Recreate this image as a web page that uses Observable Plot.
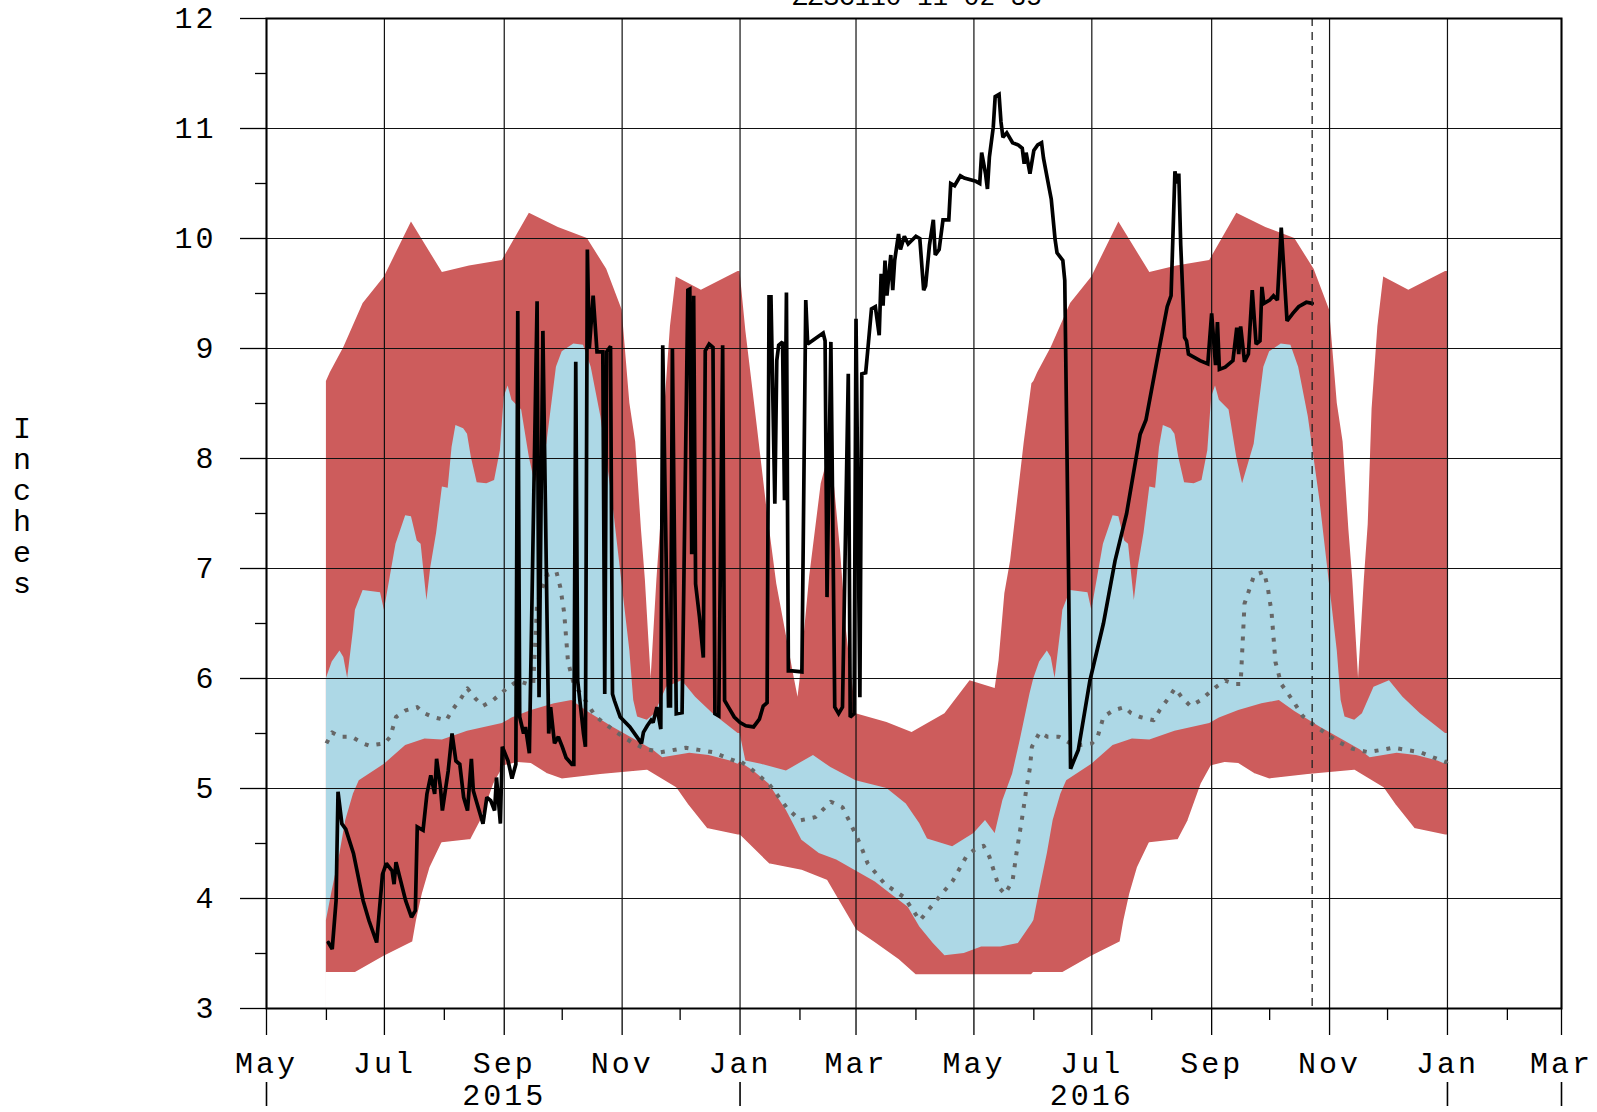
<!DOCTYPE html>
<html><head><meta charset="utf-8">
<script src="https://cdn.jsdelivr.net/npm/d3@7"></script>
<script src="https://cdn.jsdelivr.net/npm/@observablehq/plot@0.6"></script>
<style>
html,body{margin:0;padding:0;background:#fff;overflow:hidden;}
#chart{position:absolute;left:0;top:0;}
</style></head><body><div id="chart"></div>
<script>
// ---------- text & ticks ----------
const titleText = "ZZSC110 11-02-35";
const yLabelText = "Inches";
const xDomain = ["2015-05-01", "2017-03-01"];
const yDomain = [3, 12];
const majorMonthTicks = ["2015-05-01","2015-07-01","2015-09-01","2015-11-01","2016-01-01","2016-03-01","2016-05-01","2016-07-01","2016-09-01","2016-11-01","2017-01-01","2017-03-01"];
const minorMonthTicks = ["2015-06-01","2015-08-01","2015-10-01","2015-12-01","2016-02-01","2016-04-01","2016-06-01","2016-08-01","2016-10-01","2016-12-01","2017-02-01"];
const yearLabelDates = ["2015-09-01","2016-07-01"];
const yearBoundaryDates = ["2015-05-01","2016-01-01","2017-01-01","2017-03-01"];
const yMajorTicks = [3,4,5,6,7,8,9,10,11,12];
const yMinorTicks = [3.5,4.5,5.5,6.5,7.5,8.5,9.5,10.5,11.5];
const reportDate = "2016-10-23";

// ---------- climatology (month-day, one annual cycle Jun -> May) ----------
const maxDays = ["06-01","06-03","06-10","06-20","07-01","07-15","07-31","08-14","08-31","09-14","09-29","10-14","10-24","11-01","11-05","11-08","11-11","11-13","11-16","11-19","11-21","11-23","11-26","11-29","12-12","12-31","01-01","01-04","01-10","01-15","01-20","01-29","01-31","02-01","02-06","02-12","02-17","02-22","02-25","03-01","03-17","03-30","04-16","04-29","05-12","05-14","05-17","05-20","05-27","05-31"];
const maxValues = [8.70,8.78,9.01,9.41,9.65,10.15,9.69,9.75,9.80,10.23,10.10,10.00,9.72,9.35,8.50,8.15,7.35,6.90,6.00,6.90,7.40,8.45,9.20,9.65,9.53,9.70,9.70,9.16,8.28,7.53,6.86,6.01,5.83,5.98,6.92,7.77,8.10,7.16,6.44,5.68,5.60,5.51,5.68,5.98,5.91,6.16,6.77,7.07,8.14,8.68];

const minDays = ["06-01","06-16","07-01","07-16","07-18","07-21","07-25","07-31","08-15","08-20","08-27","09-01","09-08","09-15","09-23","10-01","10-21","11-14","11-29","12-05","12-15","12-31","01-01","01-16","02-02","02-15","02-20","03-01","03-11","03-23","04-01","05-31"];
const minValues = [3.32,3.32,3.47,3.60,3.80,4.04,4.28,4.50,4.53,4.70,5.04,5.20,5.23,5.22,5.13,5.08,5.12,5.16,5.00,4.85,4.63,4.57,4.57,4.31,4.25,4.16,4.01,3.71,3.59,3.44,3.30,3.30];

const upperDays = ["06-01","06-04","06-08","06-10","06-12","06-15","06-16","06-20","06-29","07-01","07-04","07-07","07-12","07-15","07-18","07-20","07-23","07-25","07-28","07-31","08-03","08-05","08-07","08-11","08-13","08-15","08-18","08-23","08-27","08-30","09-01","09-03","09-05","09-10","09-14","09-17","09-23","09-28","10-01","10-07","10-12","10-16","10-21","10-27","10-31","11-05","11-07","11-09","11-14","11-18","11-24","12-02","12-09","12-18","12-31","01-01","01-04","01-12","01-25","02-08","02-17","03-01","03-17","03-27","04-03","04-07","04-20","05-01","05-07","05-12","05-16","05-21","05-25","05-30"];
const upperValues = [6.00,6.15,6.25,6.19,6.00,6.44,6.62,6.80,6.78,6.62,6.92,7.22,7.48,7.47,7.25,7.22,6.71,7.01,7.32,7.74,7.73,8.10,8.30,8.27,8.22,8.01,7.78,7.77,7.80,8.07,8.56,8.66,8.53,8.44,8.01,7.77,8.13,8.83,8.97,9.04,9.03,8.83,8.38,7.62,7.01,6.25,5.80,5.65,5.62,5.68,5.92,5.98,5.83,5.68,5.50,5.50,5.25,5.22,5.16,5.30,5.19,5.07,5.00,4.86,4.68,4.54,4.47,4.59,4.71,4.59,4.89,5.13,5.44,5.86];

const lowerDays = ["06-01","06-04","06-08","06-11","06-15","06-18","07-01","07-12","07-22","07-31","08-13","08-31","09-05","09-15","09-27","10-06","10-14","10-27","11-07","11-17","11-22","12-06","12-16","12-27","12-31","01-01","01-08","01-16","01-25","02-02","02-11","02-20","03-01","03-11","03-19","03-28","04-03","04-10","04-16","04-26","05-05","05-15","05-24","05-31"];
const lowerValues = [3.80,4.07,4.41,4.71,4.95,5.07,5.22,5.39,5.45,5.44,5.52,5.59,5.64,5.71,5.77,5.80,5.70,5.56,5.45,5.35,5.28,5.32,5.30,5.25,5.22,5.24,5.16,5.04,4.80,4.53,4.41,4.35,4.25,4.15,4.04,3.92,3.74,3.59,3.48,3.50,3.56,3.56,3.59,3.77];

const medianDays = ["06-01","06-04","06-08","06-14","06-20","06-23","07-01","07-04","07-07","07-12","07-18","07-21","07-26","08-02","08-05","08-10","08-13","08-17","08-21","08-26","09-03","09-08","09-13","09-16","09-18","09-23","09-28","09-30","10-02","10-04","10-07","10-13","10-18","10-23","10-30","11-06","11-13","11-21","12-04","12-18","12-25","12-31","01-01","01-08","01-16","01-25","02-01","02-09","02-17","02-23","02-28","03-03","03-07","03-16","03-26","04-03","04-10","04-20","04-27","05-01","05-06","05-09","05-14","05-17","05-21","05-23","05-26","05-28","05-30","05-31"];
const medianValues = [5.41,5.51,5.47,5.47,5.41,5.39,5.41,5.47,5.65,5.71,5.74,5.69,5.65,5.62,5.71,5.83,5.91,5.82,5.75,5.80,5.92,5.98,5.95,5.95,6.68,6.94,6.97,6.83,6.60,6.15,5.95,5.80,5.66,5.59,5.50,5.42,5.36,5.33,5.37,5.33,5.28,5.24,5.25,5.16,5.04,4.83,4.71,4.74,4.88,4.83,4.65,4.50,4.32,4.13,4.01,3.80,3.95,4.16,4.38,4.44,4.48,4.38,4.10,4.04,4.16,4.41,4.74,4.98,5.19,5.38];

// ---------- current water year observations ----------
const obsDates = ["2015-06-02","2015-06-04","2015-06-06","2015-06-07","2015-06-09","2015-06-11","2015-06-15","2015-06-20","2015-06-23","2015-06-27","2015-06-30","2015-07-02","2015-07-05","2015-07-06","2015-07-07","2015-07-09","2015-07-12","2015-07-15","2015-07-17","2015-07-18","2015-07-21","2015-07-23","2015-07-25","2015-07-27","2015-07-28","2015-07-30","2015-07-31","2015-08-03","2015-08-05","2015-08-07","2015-08-09","2015-08-11","2015-08-13","2015-08-15","2015-08-16","2015-08-18","2015-08-21","2015-08-23","2015-08-25","2015-08-27","2015-08-28","2015-08-30","2015-08-31","2015-09-03","2015-09-05","2015-09-07","2015-09-08","2015-09-09","2015-09-11","2015-09-12","2015-09-14","2015-09-18","2015-09-19","2015-09-21","2015-09-24","2015-09-25","2015-09-27","2015-09-29","2015-10-01","2015-10-03","2015-10-06","2015-10-07","2015-10-08","2015-10-09","2015-10-12","2015-10-13","2015-10-14","2015-10-15","2015-10-17","2015-10-19","2015-10-22","2015-10-23","2015-10-24","2015-10-26","2015-10-27","2015-10-28","2015-10-31","2015-11-05","2015-11-11","2015-11-12","2015-11-14","2015-11-16","2015-11-17","2015-11-19","2015-11-21","2015-11-22","2015-11-25","2015-11-26","2015-11-27","2015-11-29","2015-12-02","2015-12-05","2015-12-06","2015-12-07","2015-12-08","2015-12-09","2015-12-11","2015-12-13","2015-12-14","2015-12-16","2015-12-18","2015-12-19","2015-12-21","2015-12-23","2015-12-24","2015-12-26","2015-12-29","2016-01-01","2016-01-04","2016-01-08","2016-01-11","2016-01-13","2016-01-15","2016-01-16","2016-01-17","2016-01-19","2016-01-20","2016-01-21","2016-01-23","2016-01-24","2016-01-25","2016-01-26","2016-01-28","2016-02-02","2016-02-04","2016-02-05","2016-02-09","2016-02-13","2016-02-14","2016-02-15","2016-02-17","2016-02-19","2016-02-21","2016-02-23","2016-02-26","2016-02-27","2016-02-29","2016-03-01","2016-03-03","2016-03-04","2016-03-06","2016-03-07","2016-03-09","2016-03-11","2016-03-13","2016-03-14","2016-03-15","2016-03-16","2016-03-17","2016-03-19","2016-03-20","2016-03-21","2016-03-23","2016-03-24","2016-03-26","2016-03-28","2016-04-01","2016-04-03","2016-04-05","2016-04-06","2016-04-08","2016-04-10","2016-04-11","2016-04-13","2016-04-15","2016-04-18","2016-04-19","2016-04-21","2016-04-24","2016-04-26","2016-05-02","2016-05-04","2016-05-05","2016-05-07","2016-05-08","2016-05-09","2016-05-11","2016-05-12","2016-05-14","2016-05-15","2016-05-16","2016-05-18","2016-05-21","2016-05-24","2016-05-26","2016-05-27","2016-05-28","2016-05-30","2016-06-01","2016-06-03","2016-06-05","2016-06-06","2016-06-09","2016-06-10","2016-06-12","2016-06-13","2016-06-16","2016-06-17","2016-06-19","2016-06-20","2016-06-24","2016-06-30","2016-07-07","2016-07-13","2016-07-19","2016-07-26","2016-07-29","2016-08-05","2016-08-09","2016-08-11","2016-08-13","2016-08-14","2016-08-15","2016-08-16","2016-08-18","2016-08-19","2016-08-20","2016-08-26","2016-08-30","2016-09-01","2016-09-03","2016-09-04","2016-09-05","2016-09-08","2016-09-12","2016-09-14","2016-09-15","2016-09-16","2016-09-18","2016-09-20","2016-09-22","2016-09-24","2016-09-26","2016-09-27","2016-09-28","2016-10-01","2016-10-03","2016-10-05","2016-10-07","2016-10-10","2016-10-13","2016-10-16","2016-10-20","2016-10-23"];
const obsValues = [3.60,3.54,3.98,4.97,4.68,4.63,4.41,3.98,3.80,3.60,4.22,4.32,4.25,4.13,4.33,4.19,3.98,3.83,3.89,4.65,4.62,4.95,5.12,4.95,5.27,5.01,4.80,5.16,5.50,5.25,5.22,4.92,4.80,5.27,4.98,4.86,4.68,4.92,4.89,4.80,5.10,4.68,5.38,5.25,5.09,5.22,9.34,5.65,5.50,5.56,5.32,9.43,5.83,9.16,5.50,5.74,5.41,5.47,5.38,5.28,5.22,5.22,8.88,5.98,5.50,5.38,9.90,9.00,9.48,8.97,8.97,5.86,8.97,9.02,5.86,5.80,5.65,5.56,5.41,5.51,5.57,5.62,5.60,5.74,5.54,9.03,5.75,5.75,9.00,5.68,5.69,9.53,9.54,7.13,9.48,6.86,6.56,6.19,8.98,9.04,9.01,5.68,5.66,9.03,5.80,5.74,5.65,5.60,5.57,5.56,5.63,5.75,5.78,9.47,9.47,7.59,8.89,9.03,9.06,7.62,9.51,6.07,6.07,6.06,9.44,9.04,9.09,9.14,9.07,6.74,9.06,5.74,5.68,5.74,8.77,5.65,5.68,9.27,5.83,8.77,8.78,8.97,9.36,9.38,9.12,9.68,9.39,9.80,9.48,9.85,9.53,9.80,10.04,9.90,10.02,9.95,10.02,10.00,9.53,9.57,9.94,10.17,9.85,9.90,10.17,10.17,10.50,10.48,10.57,10.55,10.52,10.50,10.78,10.59,10.45,10.74,11.01,11.29,11.31,11.06,10.92,10.96,10.87,10.85,10.82,10.68,10.78,10.59,10.80,10.85,10.87,10.73,10.45,10.36,9.99,9.87,9.80,9.62,6.90,5.18,5.35,5.98,6.50,7.07,7.50,8.22,8.35,9.01,9.38,9.48,10.61,10.50,10.59,9.94,9.10,9.07,8.95,8.89,8.86,9.32,8.85,9.24,8.81,8.83,8.89,9.19,8.95,9.20,8.88,8.95,9.53,9.04,9.07,9.56,9.41,9.44,9.48,9.44,10.10,9.25,9.32,9.38,9.42,9.41];

// ---------- build tables ----------
const parse = d3.utcParse("%Y-%m-%d");
function expandCycle(days, values) {
  const rows = [];
  days.forEach((md, i) => {
    const m = +md.slice(0, 2);
    if (m >= 6) {
      rows.push({date: parse("2015-" + md), value: values[i]});
      rows.push({date: parse("2016-" + md), value: values[i]});
    } else {
      rows.push({date: parse("2016-" + md), value: values[i]});
    }
    if (md === "01-01") rows.push({date: parse("2017-01-01"), value: values[i]});
  });
  return rows.sort((a, b) => a.date - b.date);
}
const maxRows = expandCycle(maxDays, maxValues);
const minRows = expandCycle(minDays, minValues);
const upperRows = expandCycle(upperDays, upperValues);
const lowerRows = expandCycle(lowerDays, lowerValues);
const medianRows = expandCycle(medianDays, medianValues);
const obsRows = obsDates.map((d, i) => ({date: parse(d), value: obsValues[i]}));

const RED = "#CD5C5C", BLUE = "#ADD8E6";
const band = (rows, fill, extra = {}) => Plot.areaY(rows, {x: "date", y1: yDomain[0], y2: "value", fill, curve: "linear", ...extra});

const chart = Plot.plot({
  width: 1597,
  height: 1112,
  marginLeft: 266,
  marginRight: 36,
  marginTop: 18,
  marginBottom: 104,
  style: {fontFamily: "'Liberation Mono', 'DejaVu Sans Mono', monospace", fontSize: "30px", letterSpacing: "3px", background: "white", color: "black", overflow: "visible"},
  x: {type: "utc", domain: xDomain.map(parse)},
  y: {domain: yDomain},
  marks: [
    band(maxRows, RED),
    band(upperRows, BLUE),
    band(lowerRows, RED),
    band(minRows, "white", {stroke: "white", strokeWidth: 1.5}),
    Plot.gridX(majorMonthTicks.map(parse), {stroke: "#111", strokeOpacity: 1, strokeWidth: 1.2}),
    Plot.gridY(yMajorTicks, {stroke: "#111", strokeOpacity: 1, strokeWidth: 1.2}),
    Plot.line(medianRows, {x: "date", y: "value", stroke: "#666666", strokeWidth: 4, strokeDasharray: "4,8", strokeLinecap: "butt"}),
    Plot.line(obsRows, {x: "date", y: "value", stroke: "black", strokeWidth: 3.7, strokeLinejoin: "miter", strokeMiterlimit: 2}),
    Plot.ruleX([parse(reportDate)], {stroke: "#222", strokeWidth: 1.3, strokeDasharray: "8,6"}),
    Plot.frame({stroke: "black", strokeWidth: 2}),
    Plot.axisX(majorMonthTicks.map(parse), {anchor: "bottom", tickSize: 27, tickPadding: 16, tickFormat: d3.utcFormat("%b"), label: null, strokeWidth: 1.3}),
    Plot.axisX(minorMonthTicks.map(parse), {anchor: "bottom", tickSize: 12, tickFormat: () => "", label: null, strokeWidth: 1.3}),
    Plot.axisX(yearLabelDates.map(parse), {anchor: "bottom", tickSize: 0, tickPadding: 75, tickFormat: d3.utcFormat("%Y"), label: null}),
    Plot.axisX(yearBoundaryDates.map(parse), {anchor: "bottom", tickSize: 24, dy: 74, tickFormat: () => "", label: null, strokeWidth: 1.6}),
    Plot.axisY(yMajorTicks, {anchor: "left", tickSize: 26, tickPadding: 24, tickFormat: d => String(d), label: null, strokeWidth: 1.3}),
    Plot.axisY(yMinorTicks, {anchor: "left", tickSize: 11, tickFormat: () => "", label: null, strokeWidth: 1.3}),
    Plot.text([yLabelText], {frameAnchor: "left", dx: -243, dy: -8, text: d => d.split("").join("\n"), lineHeight: 1.035, textAnchor: "middle"}),
    Plot.text([titleText], {frameAnchor: "top", dx: 3, dy: -14, lineAnchor: "bottom", fontSize: 26})
  ]
});
chart.querySelectorAll("text").forEach(t => { if (t.textContent === titleText) t.style.letterSpacing = "0px"; });
document.getElementById("chart").appendChild(chart);
</script>
</body></html>
